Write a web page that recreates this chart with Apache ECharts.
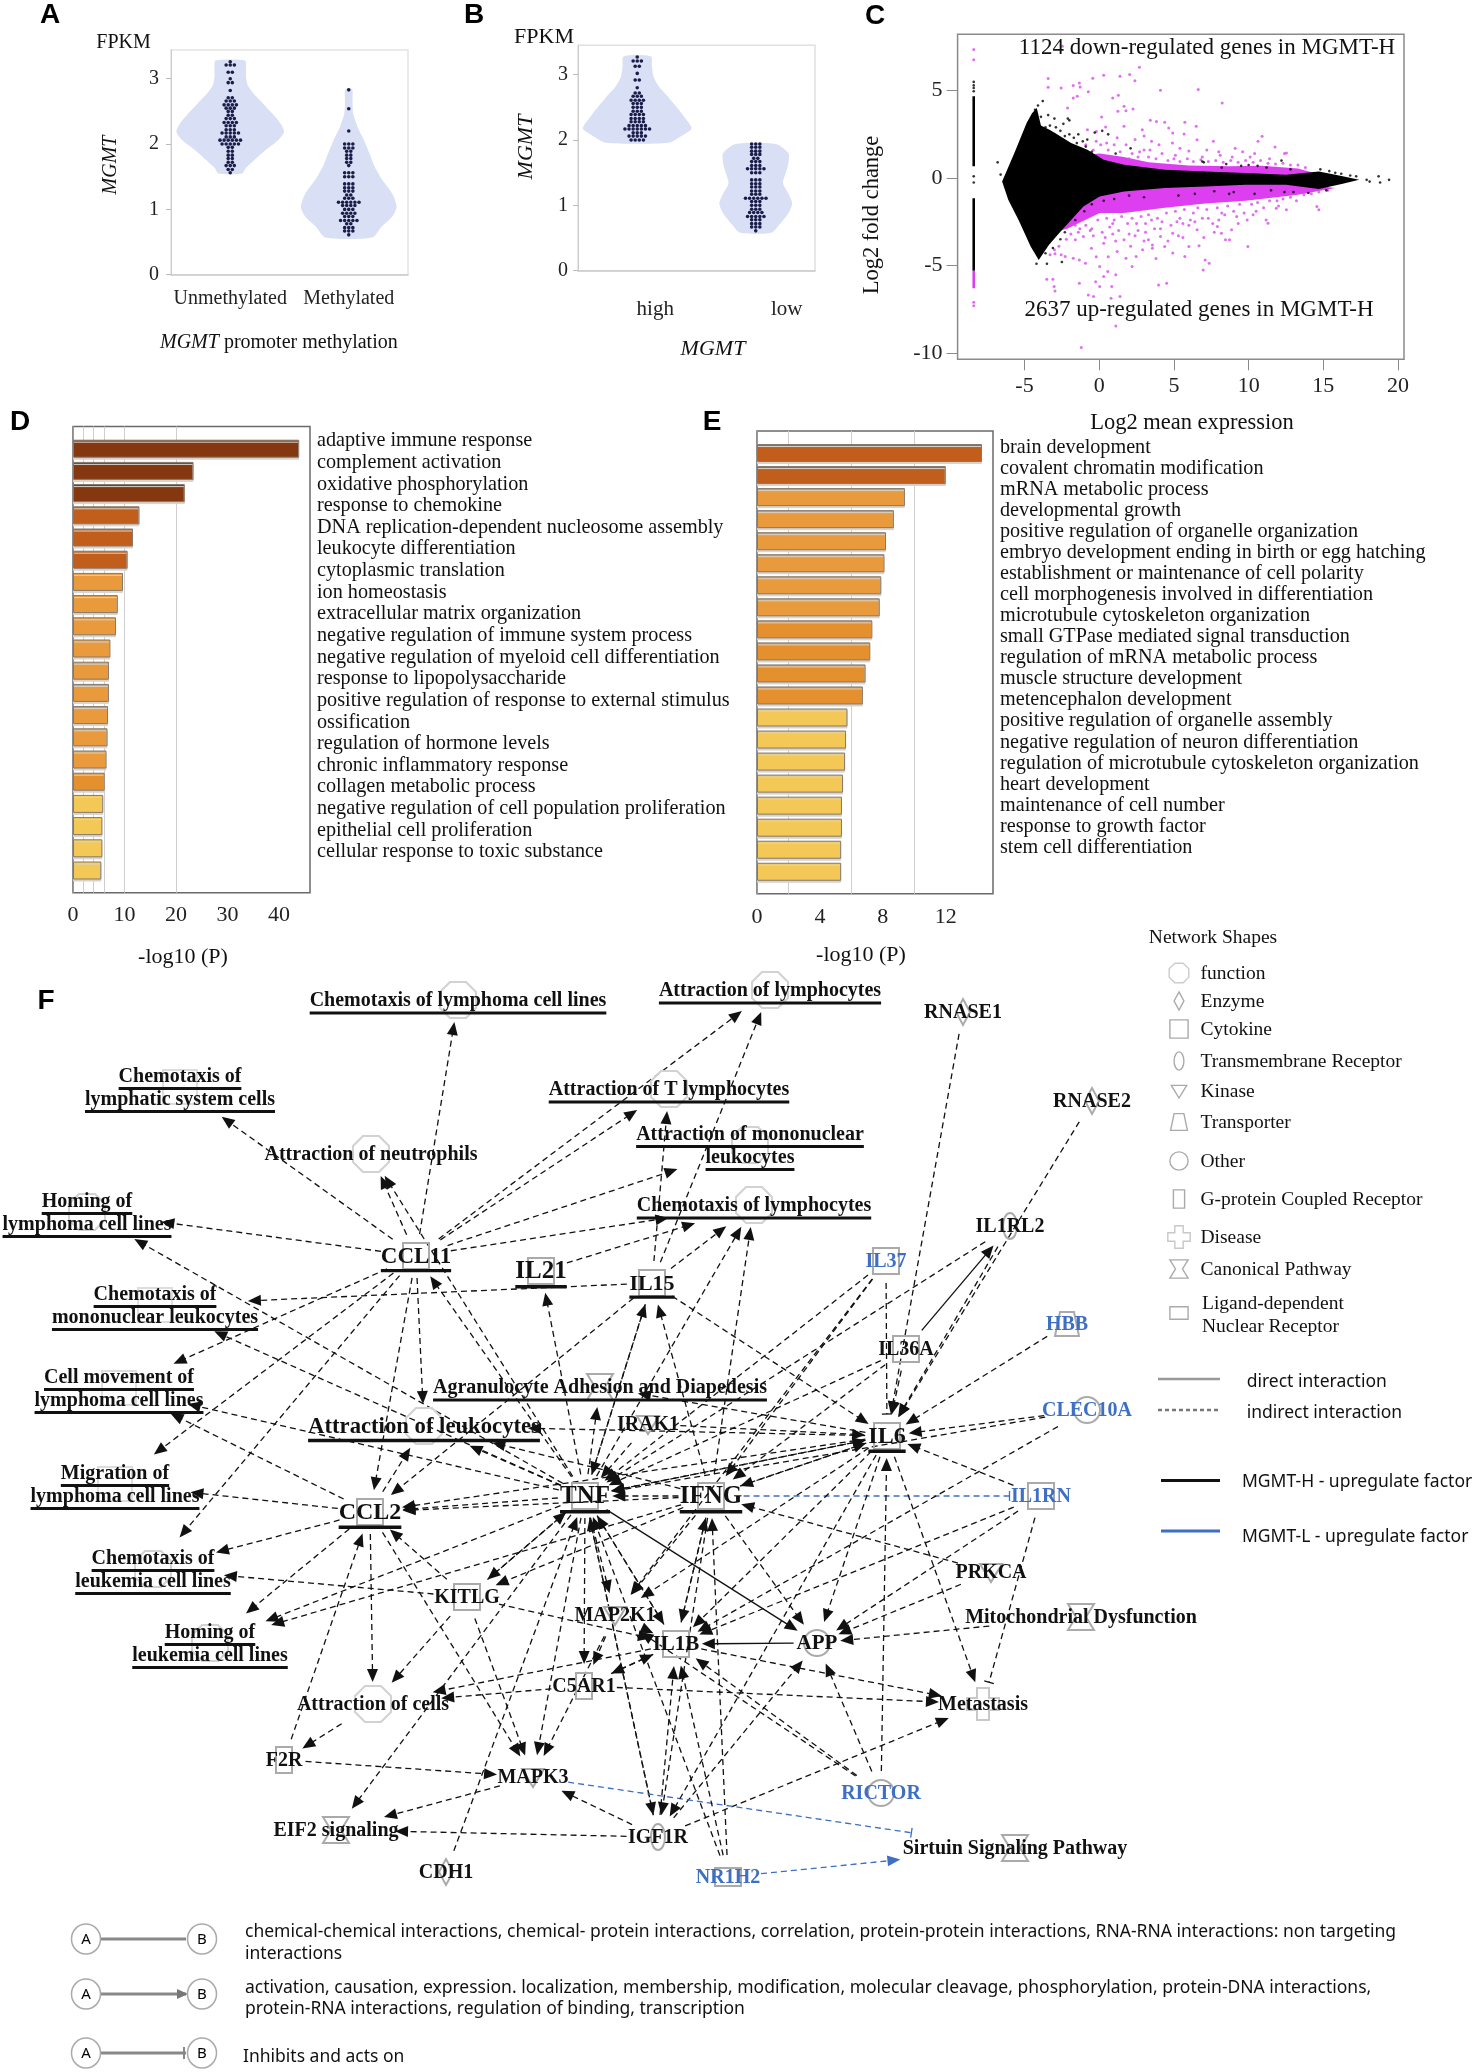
<!DOCTYPE html>
<html><head><meta charset="utf-8">
<style>html,body{margin:0;padding:0;background:#fff}#c{width:1476px;height:2072px}</style>
<script src="https://cdn.jsdelivr.net/npm/echarts@6/dist/echarts.min.js"></script>
</head><body><div id="c"></div>
<script>
/* ---------- Panels A, B: violins [value, half-width in band units] and dot rows [value, dots] ---------- */
const catsA = ['Unmethylated','Methylated'];
const catsB = ['high','low'];
const violinA1 = [[3.28,.124],[3.18,.133],[3.03,.133],[2.90,.147],[2.78,.193],[2.62,.275],[2.47,.353],[2.32,.422],[2.19,.454],[2.06,.404],[1.91,.298],[1.76,.206],[1.63,.13],[1.55,.10]];
const violinA2 = [[2.84,.028],[2.67,.032],[2.47,.037],[2.27,.073],[2.06,.128],[1.86,.174],[1.65,.22],[1.45,.284],[1.24,.367],[1.04,.404],[.89,.367],[.73,.275],[.57,.197]];
const violinB1 = [[3.28,.115],[3.12,.124],[2.97,.138],[2.82,.183],[2.66,.261],[2.51,.33],[2.36,.394],[2.18,.459],[2.08,.39],[1.96,.266]];
const violinB2 = [[1.94,.17],[1.80,.275],[1.64,.275],[1.49,.252],[1.34,.23],[1.18,.275],[1.03,.307],[.88,.275],[.72,.206],[.58,.128]];
const dotsA1 = [[3.26,1],[3.21,3],[3.10,2],[3.00,1],[2.94,2],[2.82,1],[2.71,2],[2.66,3],[2.60,4],[2.55,3],[2.50,2],[2.44,2],[2.39,3],[2.33,4],[2.28,3],[2.22,3],[2.17,5],[2.11,3],[2.06,6],[2.00,5],[1.95,2],[1.89,2],[1.83,2],[1.78,2],[1.72,2],[1.67,3],[1.61,2],[1.56,1]];
const dotsA2 = [[2.83,1],[2.54,1],[2.20,1],[2.00,3],[1.94,3],[1.89,2],[1.83,2],[1.78,2],[1.72,2],[1.67,1],[1.56,3],[1.50,3],[1.39,3],[1.33,3],[1.28,3],[1.22,2],[1.17,3],[1.11,6],[1.06,4],[1.00,3],[.94,4],[.89,3],[.83,5],[.78,2],[.72,3],[.67,3],[.61,1]];
const dotsB1 = [[3.27,1],[3.21,3],[3.13,2],[3.02,1],[2.92,2],[2.80,1],[2.72,2],[2.67,3],[2.61,4],[2.56,3],[2.50,3],[2.44,3],[2.39,4],[2.33,4],[2.28,4],[2.22,5],[2.17,7],[2.11,3],[2.06,5],[2.00,4]];
const dotsB2 = [[1.94,3],[1.89,3],[1.83,3],[1.78,3],[1.72,2],[1.67,3],[1.61,3],[1.56,5],[1.50,3],[1.39,3],[1.33,3],[1.28,3],[1.22,3],[1.17,3],[1.11,6],[1.06,3],[1.00,3],[.94,3],[.89,4],[.83,5],[.78,3],[.72,3],[.67,3],[.61,1]];
const ticksAB = [0,1,2,3];

/* ---------- Panel C: read-off outlines of the dense clouds, and individually read points ---------- */
const ticksCx = [-5,0,5,10,15,20];
const ticksCy = [-10,-5,0,5];
const cBlackCloud = [[-6.5,-.2],[-5.68,1.43],[-4.86,3.15],[-4.5,3.7],[-4.18,4.0],[-3.9,3.0],[-3.3,2.75],[-2.96,2.58],[-1.88,2.0],[-.79,1.62],[.3,1.05],[1.66,.76],[4.4,.48],[7.1,.38],[9.8,.29],[12.5,.19],[14.7,.38],[16.3,.1],[17.4,-.1],[16.3,-.32],[14.7,-.63],[12.5,-.38],[9.8,-.38],[7.1,-.48],[4.4,-.57],[1.66,-.76],[.03,-1.05],[-1.06,-1.62],[-1.88,-2.39],[-2.69,-3.15],[-3.37,-3.82],[-4.05,-4.68],[-4.59,-3.91],[-5.4,-2.39],[-6.09,-1.24]];
const cMagentaUpper = [[-1.6,.9],[-1.33,1.3],[.03,1.4],[1.66,1.2],[3.29,.9],[6,.72],[8.7,.68],[10.9,.7],[13.3,.55],[14.4,.29],[12,.1],[4,.3],[0,.6]];
const cMagentaLower = [[15.8,-.57],[13.3,-.95],[9.8,-1.3],[7.1,-1.45],[4.4,-1.7],[1.66,-2.0],[.03,-2.0],[-2.15,-2.9],[-2.6,-3.0],[-1,-1.2],[4,-.3],[12,-.2]];
const cStripBlack = [[-8.4,4.68],[-8.4,.67],['-','-'],[-8.4,-1.15],[-8.4,-5.3]];
const cStripMagenta = [[-8.4,-5.3],[-8.4,-6.3]];
const cBlackPoints = [[-8.4,5.5],[-8.4,5.3],[-8.4,5.15],[-8.4,4.96],[-8.4,.1],[-8.4,-.25],[-6.8,.9],[-6.6,.2],[-3.78,4.4],[-3.42,3.6],[-3.0,3.4],[-2.1,3.4],[-2.0,3.3],[-2.4,3.1],[-1.4,2.5],[-.8,2.2],[-.3,2.6],[.2,2.7],[.6,2.5],[1.1,1.4],[2.1,1.7],[6.9,.95],[8.2,.6],[9.5,.7],[10.6,.7],[12.2,1.0],[17.2,.1],[17.9,-.1],[18.1,-.2],[18.7,.1],[18.8,-.25],[19.4,-.1],[-3.5,-4.9],[-2.5,-4.8],[.3,-1.3],[1,-1.2],[8.7,-.9],[12.4,-.8],
 [-3.6,2.9],[-3.3,3.0],[-2.9,2.9],[-2.6,2.7],[-2.3,2.4],[-2,2.5],[-1.7,2.3],[-1.5,2.0],[-1.1,2.1],[-.9,1.8],[-.5,1.5],[-3.9,3.5],[-4.1,4.15],[-4.3,3.9],[-2.3,-3.1],[-2.6,-3.5],[-3.1,-4.0],[-3.6,-4.3],[-4.2,-4.9],[-1.6,-2.4],[-1,-1.9],[-.5,-1.5],[2,-1.0],[3,-1.1],[5.3,-1.0],[6.4,-.9],[7.7,-.75],[9,-.8],[10.4,-.9],[11.5,-.7],[13,-.8],[14,-.85],[15.2,-.7],[15.8,.3],[16.2,.25],[16.8,.15],[15.4,.4],[14.8,.5],[7,.9],[8.5,.8],[10,.75],[11.2,.6],[12.8,.5]];
const cMagentaPoints = [[-8.4,7.35],[-8.4,6.77],[-8.4,-7.1],[-8.4,-7.3],[-3.42,5.69],[-3.42,5.19],[-2.47,7.54],[-2.55,5.15],[-1.74,5.29],[-1.33,5.44],[-1.28,5.21],[-.73,4.94],[-.43,5.71],[.3,5.88],[1.39,5.82],[2.04,5.92],[2.39,5.57],[2.69,6.34],[4.1,5.02],[6.63,5.06],[8.23,4.29],[-1.74,4.58],[-1.47,4.68],[.9,4.58],[1.28,4.73],[-2.12,4.0],[1.66,4.1],[2.26,3.95],[1.79,3.85],[.16,3.49],[1.25,3.82],[3.42,3.3],[3.83,3.24],[4.38,3.19],[5.73,3.19],[6.49,2.96],[2.88,2.77],[1.66,2.96],[.43,2.92],[-.19,2.67],[-.79,2.77],[4.65,2.86],[4.92,2.58],[5.68,2.52],[6.55,2.19],[7.64,2.1],[10.9,2.39],[10.63,2.1],[11.77,1.77],[12.53,1.43],[12.4,1.4],[3,2.4],[3.5,2.1],[2.4,2.2],[1.2,2.3],[.5,2.0],[4,1.9],[4.9,2.0],[5.4,1.7],[6,1.55],[7.2,1.6],[8,1.5],[9.6,1.5],[10.1,1.2],[8.9,1.2],[2.7,1.5],[3.4,1.6],[5.1,1.3],[6.9,1.2],[11.4,1.1],
 [-.9,1.9],[-.4,1.6],[.1,1.9],[.6,1.6],[1,1.9],[1.4,1.5],[1.8,1.9],[2.2,1.4],[2.6,1.2],[3,1.6],[3.3,1.2],[3.8,1.1],[4.2,1.4],[4.6,1.0],[5,1.1],[5.4,.95],[5.9,1.1],[6.3,.95],[6.8,1.05],[7.3,.95],[7.8,1.0],[8.3,.9],[8.8,1.0],[9.3,.9],[9.8,1.0],[10.3,.9],[10.8,1.0],[11.3,.85],[11.8,.8],[12.3,.85],[12.8,.75],[13.3,.75],[13.8,.6],[8.1,1.3],[9.1,1.7],[10.4,1.4],[2,1.1],[-.2,2.1],
 [-3.51,-5.78],[-3.1,-5.78],[-3.02,-6.2],[-2.96,-6.45],[-3.29,-4.39],[-2.96,-4.33],[-2.55,-4.39],[-2.28,-4.48],[-1.74,-4.58],[-1.33,-4.68],[-.92,-4.87],[-.73,-6.68],[-.38,-6.77],[.03,-5.06],[.57,-5.34],[.3,-5.63],[-.24,-5.92],[-1.33,-6.01],[.84,-6.2],[.03,-6.2],[1.39,-6.77],[.79,-6.87],[1.11,-8.45],[-1.2,-9.68],[1.79,-4.58],[2.47,-4.48],[2.2,-5.06],[1.11,-5.53],[3.97,-6.11],[4.51,-6.01],[3.56,-4.01],[3.56,-3.82],[4.92,-4.29],[4.38,-3.91],[5.73,-4.48],[6.0,-3.91],[6.68,-3.87],[7.09,-4.68],[7.36,-4.87],[6.96,-5.25],[8.45,-3.53],[8.72,-3.53],[9.95,-3.91],[11.17,-2.39],[11.3,-2.58],[12.53,-1.81],[11.85,-1.72],[14.7,-1.81],[14.57,-1.62],[8.18,-3.15],[8.86,-2.96],[7.91,-2.77],[6.55,-2.96],[4.92,-3.15],[4.1,-3.34],[3.29,-3.53],[1.66,-3.53],[.3,-3.72],[-.52,-4.01],[-1.6,-3.53],[-1.06,-3.34],[2.6,-3.0],[3.1,-3.1],[5.6,-2.6],[5.3,-3.3],[6.1,-2.4],[7.3,-2.3],[8.4,-2.1],[9.2,-2.2],[9.9,-2.4],[10.5,-1.9],[.9,-3.2],[-.6,-3.0],[-1.3,-2.9],[2.1,-3.9],[1.2,-4.2],[.6,-4.5],[-.2,-4.5],[3.8,-4.6],[2.9,-4.1],
 [-1.9,-3.2],[-1.4,-3.1],[-.9,-2.7],[-.5,-2.9],[-.1,-2.4],[.2,-3.1],[.5,-2.3],[.7,-2.8],[1,-2.4],[1.3,-3.0],[1.5,-2.2],[1.9,-2.6],[2.2,-2.3],[2.4,-3.3],[2.8,-2.2],[3.1,-2.6],[3.3,-2.1],[3.7,-2.9],[3.9,-2.3],[4.2,-2.5],[4.5,-2.0],[4.8,-2.7],[5.1,-1.9],[5.4,-2.3],[5.7,-1.8],[6,-2.7],[6.3,-2.0],[6.6,-1.7],[6.9,-2.3],[7.2,-1.8],[7.6,-2.6],[7.9,-1.7],[8.2,-2.0],[8.6,-1.6],[9,-1.9],[9.4,-1.5],[9.7,-2.0],[10.2,-1.5],[10.6,-1.4],[11,-1.7],[11.4,-1.3],[11.9,-1.3],[12.3,-1.2],[12.8,-1.1],[13.2,-1.3],[13.7,-.95],[14.2,-.9],[14.7,-.8],[15.3,-.7],[.4,-3.4],[1.1,-3.6],[2,-3.2],[3,-3.6],[4.6,-3.6],[5.6,-3.4],[7,-3.4],[7.7,-3.1],[-1.6,-2.7],[-2.2,-3.5],[-2.7,-3.9],[-3,-4.1],[-.4,-3.3],[.9,-2.6],[2.5,-2.6],[3.5,-2.4],[4.1,-2.9],[5.2,-2.5],[6.4,-2.5],[8,-2.4],[9.3,-2.6],[10.3,-2.1],[12,-1.6]];

/* ---------- Panels D, E ---------- */
const ticksD = [0,10,20,30,40];
const gridD = [2,4,6,10,20];
const termsD = ['adaptive immune response','complement activation','oxidative phosphorylation','response to chemokine','DNA replication-dependent nucleosome assembly','leukocyte differentiation','cytoplasmic translation','ion homeostasis','extracellular matrix organization','negative regulation of immune system process','negative regulation of myeloid cell differentiation','response to lipopolysaccharide','positive regulation of response to external stimulus','ossification','regulation of hormone levels','chronic inflammatory response','collagen metabolic process','negative regulation of cell population proliferation','epithelial cell proliferation','cellular response to toxic substance'];
const valuesD = [43.9,23.4,21.7,12.9,11.65,10.6,9.7,8.7,8.35,7.25,6.97,6.97,6.8,6.7,6.5,6.15,5.87,5.7,5.7,5.5];
const colorsD = ['#85370f','#85370f','#85370f','#c15e1b','#c15e1b','#c15e1b','#e89a3c','#e89a3c','#e89a3c','#e89a3c','#e89a3c','#e89a3c','#e89a3c','#e89a3c','#e89a3c','#e5902f','#f3c857','#f3c857','#f3c857','#f3c857'];
const ticksE = [0,4,8,12];
const minorE = [2,6,10,14];
const gridE = [2,6,10];
const termsE = ['brain development','covalent chromatin modification','mRNA metabolic process','developmental growth','positive regulation of organelle organization','embryo development ending in birth or egg hatching','establishment or maintenance of cell polarity','cell morphogenesis involved in differentiation','microtubule cytoskeleton organization','small GTPase mediated signal transduction','regulation of mRNA metabolic process','muscle structure development','metencephalon development','positive regulation of organelle assembly','negative regulation of neuron differentiation','regulation of microtubule cytoskeleton organization','heart development','maintenance of cell number','response to growth factor','stem cell differentiation'];
const valuesE = [14.3,12.0,9.4,8.7,8.2,8.1,7.9,7.8,7.33,7.2,6.9,6.73,5.75,5.66,5.6,5.47,5.4,5.4,5.35,5.35];
const colorsE = ['#c15e1b','#c15e1b','#e89a3c','#e89a3c','#e89a3c','#e89a3c','#e89a3c','#e89a3c','#e5902f','#e5902f','#e5902f','#e5902f','#f3c857','#f3c857','#f3c857','#f3c857','#f3c857','#f3c857','#f3c857','#f3c857'];

/* ---------- Panel F: network ---------- */
const BLUE = '#3d6fc4';
// id, label, x, y, shape, font size, underlined, colour, gap override
const netNodes = [
['chemLymphoma','Chemotaxis of lymphoma cell lines',458,1000,'oct',20,1],
['attrLympho','Attraction of lymphocytes',770,990,'oct',20,1],
['chemLymphatic','Chemotaxis of\nlymphatic system cells',180,1087,'rectF',20,1],
['attrT','Attraction of T lymphocytes',669,1089,'oct',20,1],
['attrMono','Attraction of mononuclear\nleukocytes',750,1145,'oct',20,1],
['attrNeut','Attraction of neutrophils',371,1154,'oct',20,0],
['chemLympho','Chemotaxis of lymphocytes',754,1205,'oct',20,1],
['homLymphoma','Homing of\nlymphoma cell lines',87,1212,'oct',20,1],
['chemMono','Chemotaxis of\nmononuclear leukocytes',155,1305,'rectF',20,1],
['cellMov','Cell movement of\nlymphoma cell lines',119,1388,'rectF',20,1],
['migr','Migration of\nlymphoma cell lines',115,1484,'rectF',20,1],
['chemLeuk','Chemotaxis of\nleukemia cell lines',153,1569,'oct',20,1],
['homLeuk','Homing of\nleukemia cell lines',210,1643,'oct',20,1],
['attrLeuko','Attraction of leukocytes',424,1426,'oct',22.7,1],
['agran','Agranulocyte Adhesion and Diapedesis',600,1387,'hour',20,1,null,[40,20]],
['attrCells','Attraction of cells',373,1704,'oct',20,0],
['CCL11','CCL11',416,1256,'rect',23,1],
['IL21','IL21',541,1271,'rect',25,1],
['IL15','IL15',652,1283,'rect',22,1],
['IL37','IL37',886,1261,'rect',20,0,BLUE],
['IL1RL2','IL1RL2',1010,1226,'ell',20,0],
['RNASE1','RNASE1',963,1012,'dia',20,0],
['RNASE2','RNASE2',1092,1101,'dia',20,0],
['HBB','HBB',1067,1324,'trap',20,0,BLUE],
['IL36A','IL36A',906,1349,'rect',20,0],
['CLEC10A','CLEC10A',1087,1410,'cir',20,0,BLUE],
['IL6','IL6',887,1436,'rect',24,1],
['IL1RN','IL1RN',1041,1496,'rect',20,0,BLUE],
['IRAK1','IRAK1',648,1424,'kin',20,0],
['CCL2','CCL2',370,1512,'rect',24,1],
['TNF','TNF',585,1496,'rect',25,1],
['IFNG','IFNG',711,1496,'rect',25,1],
['KITLG','KITLG',467,1597,'rect',20,0],
['PRKCA','PRKCA',991,1572,'kin',20,0],
['mito','Mitochondrial Dysfunction',1081,1617,'hour',20,0,null,[120,14]],
['MAP2K1','MAP2K1',615,1615,'kin',20,0],
['IL1B','IL1B',676,1644,'rect',21,0],
['APP','APP',817,1643,'cir',21,0],
['C5AR1','C5AR1',584,1686,'gpcr',20,0],
['meta','Metastasis',983,1704,'plus',20,0],
['F2R','F2R',284,1760,'gpcr',20,0],
['MAPK3','MAPK3',533,1777,'kin',20,0],
['RICTOR','RICTOR',881,1793,'cir',20,0,BLUE],
['eif2','EIF2 signaling',336,1830,'hour',20,0],
['IGF1R','IGF1R',658,1837,'ell',20,0],
['sirt','Sirtuin Signaling Pathway',1015,1848,'hour',20,0,null,[128,26]],
['CDH1','CDH1',446,1872,'dia',20,0],
['NR1H2','NR1H2',728,1877,'lig',20,0,BLUE]
];
// from, to, kind: a dashed arrow, b dashed bar, s solid arrow, A blue dashed arrow, B blue dashed bar
const netEdges = [
['CCL11','chemLymphoma','a'],['CCL11','attrNeut','a'],['CCL11','chemLymphatic','a'],['CCL11','homLymphoma','a'],['CCL11','attrLympho','a'],['CCL11','attrT','a'],['CCL11','attrMono','a'],['CCL11','chemLympho','a'],['CCL11','cellMov','a'],['CCL11','migr','a'],['CCL11','chemLeuk','a'],['CCL11','attrLeuko','a'],['CCL11','CCL2','a'],
['IL21','chemLympho','a'],
['IL15','chemMono','a'],['IL15','attrT','a'],['IL15','attrLympho','a'],['IL15','chemLympho','a'],['IL15','CCL2','a'],['IL15','TNF','a'],['IL15','IL6','a'],
['TNF','CCL11','a'],['TNF','IL21','a'],['TNF','IL15','a'],['TNF','attrNeut','a'],['TNF','homLymphoma','a'],['TNF','chemMono','a'],['TNF','cellMov','a'],['TNF','CCL2','a'],['TNF','attrLeuko','a'],['TNF','agran','a'],['TNF','IL6','a'],['TNF','MAP2K1','a'],['TNF','IL1B','a'],['TNF','APP','s'],['TNF','C5AR1','a'],['TNF','MAPK3','a'],['TNF','chemLympho','a'],['TNF','eif2','a'],['TNF','KITLG','a'],['TNF','homLeuk','a'],['TNF','IGF1R','a'],
['IFNG','IL15','a'],['IFNG','chemLympho','a'],['IFNG','TNF','a'],['IFNG','IL6','a'],['IFNG','CCL2','a'],['IFNG','attrLeuko','a'],['IFNG','MAP2K1','a'],['IFNG','IL1B','a'],['IFNG','APP','a'],['IFNG','KITLG','a'],['IFNG','homLeuk','a'],['IFNG','IGF1R','a'],['IFNG','IL1RN','B'],
['CCL2','chemLeuk','a'],['CCL2','migr','a'],['CCL2','cellMov','a'],['CCL2','homLeuk','a'],['CCL2','attrLeuko','a'],['CCL2','attrCells','a'],['CCL2','MAPK3','a'],
['F2R','CCL2','a'],['F2R','MAPK3','a'],['attrCells','F2R','a'],
['KITLG','CCL2','a'],['KITLG','chemLeuk','a'],['KITLG','attrCells','a'],['KITLG','MAPK3','a'],['KITLG','IL1B','a'],['KITLG','TNF','a'],
['C5AR1','attrCells','a'],['C5AR1','IL1B','a'],['C5AR1','meta','a'],['IL1B','C5AR1','a'],['IL1B','attrCells','a'],['IL1B','meta','a'],['IL1B','TNF','a'],['IL1B','IFNG','a'],
['MAP2K1','MAPK3','a'],['MAP2K1','C5AR1','a'],['MAP2K1','IL1B','a'],
['APP','IL1B','s'],
['IGF1R','MAPK3','a'],['IGF1R','eif2','a'],['IGF1R','IL1B','a'],['IGF1R','APP','a'],['IGF1R','meta','a'],['IGF1R','TNF','a'],
['MAPK3','eif2','a'],['MAPK3','sirt','B'],['NR1H2','sirt','A'],['NR1H2','TNF','a'],['NR1H2','IFNG','a'],['NR1H2','IL1B','a'],
['RICTOR','IL1B','a'],['RICTOR','APP','a'],['RICTOR','IL6','a'],['RICTOR','MAP2K1','a'],
['PRKCA','APP','a'],['PRKCA','IFNG','a'],
['IL1RN','APP','a'],['IL1RN','IL1B','a'],['IL1RN','meta','b'],['IL1RN','IL6','a'],
['IL6','meta','a'],['IL6','IL1B','a'],['IL6','APP','a'],['IL6','MAP2K1','a'],['IL6','IGF1R','a'],['IL6','TNF','a'],['IL6','IFNG','a'],['IL6','CCL2','a'],['IL6','attrLeuko','a'],['IL6','agran','a'],
['mito','APP','a'],['CDH1','TNF','a'],
['RNASE1','IL6','a'],['RNASE2','IL6','a'],['IL36A','IL1RL2','s'],['IL1RL2','IL6','a'],['IL1RL2','TNF','a'],
['IL37','IL6','b'],['IL37','TNF','a'],['IL37','IFNG','a'],['IL37','MAP2K1','a'],
['IL36A','IL6','a'],['IL36A','TNF','a'],['IL36A','IFNG','a'],['HBB','IL6','a'],
['CLEC10A','IL6','a'],['CLEC10A','TNF','a'],['CLEC10A','IL1B','a'],['IRAK1','TNF','a'],['IRAK1','IL6','a']
];
const shapeLegend = [['cirL','function',973],['dia','Enzyme',1001],['rect','Cytokine',1029],['ell','Transmembrane Receptor',1061],['kin','Kinase',1091],['trap','Transporter',1122],['cir','Other',1161],['gpcr','G-protein Coupled Receptor',1199],['plus','Disease',1237],['hour','Canonical Pathway',1269]];
const lineLegend = ['direct interaction','indirect interaction','MGMT-H - upregulate factor','MGMT-L - upregulate factor'];
const abLegend = [['chemical-chemical interactions, chemical- protein interactions, correlation, protein-protein interactions, RNA-RNA interactions: non targeting','interactions'],['activation, causation, expression. localization, membership, modification, molecular cleavage, phosphorylation, protein-DNA interactions,','protein-RNA interactions, regulation of binding, transcription'],['Inhibits and acts on']];

/* ---------- helpers ---------- */
const SERIF = '"Liberation Serif",serif', SANS='"Noto Sans",sans-serif';
const measure = document.createElement('canvas').getContext('2d');
function textW(t,font){measure.font=font;return measure.measureText(t).width;}
function T(text,x,y,size,opt={}){return {type:'text',x,y:y+(opt.rot?0:1.2),rotation:opt.rot||0,z:50,silent:true,style:{text,fill:opt.color||'#111',font:`${opt.italic?'italic ':''}${opt.bold?'bold ':''}${size}px ${opt.family||SERIF}`,align:opt.align||'center',verticalAlign:'middle'}};}
function shapeEl(kind,cx,cy,stroke){
  const st={fill:'none',stroke:stroke||'#aaa',lineWidth:2};
  const P=pts=>({type:'polygon',shape:{points:pts.map(p=>[cx+p[0],cy+p[1]])},style:st});
  switch(kind){
    case 'oct':{const a=18,b=8;return {type:'polygon',shape:{points:[[-b,-a],[b,-a],[a,-b],[a,b],[b,a],[-b,a],[-a,b],[-a,-b]].map(p=>[cx+p[0],cy+p[1]])},style:{fill:'none',stroke:'#d2d2d2',lineWidth:2}};}
    case 'cirL':return {type:'polygon',shape:{points:[[-6,-14],[6,-14],[14,-6],[14,6],[6,14],[-6,14],[-14,6],[-14,-6]].map(p=>[cx+p[0],cy+p[1]])},style:{fill:'none',stroke:'#ccc',lineWidth:2}};
    case 'rectF':return {type:'rect',shape:{x:cx-17,y:cy-17,width:34,height:34},style:{fill:'none',stroke:'#ddd',lineWidth:2}};
    case 'rect':return {type:'rect',shape:{x:cx-13,y:cy-13,width:26,height:26},style:st};
    case 'gpcr':return {type:'rect',shape:{x:cx-8,y:cy-13,width:16,height:26},style:st};
    case 'lig':return {type:'rect',shape:{x:cx-13,y:cy-9,width:26,height:18},style:st};
    case 'dia':return P([[0,-13],[7,0],[0,13],[-7,0]]);
    case 'ell':return {type:'ellipse',shape:{cx,cy,rx:7,ry:13},style:st};
    case 'cir':return {type:'circle',shape:{cx,cy,r:13},style:st};
    case 'kin':return P([[-11,-8],[11,-8],[0,10]]);
    case 'trap':return P([[-7,-12],[7,-12],[12,12],[-12,12]]);
    case 'hour':return P([[-13,-13],[13,-13],[5,0],[13,13],[-13,13],[-5,0]]);
    case 'plus':{const a=6,b=16;return {type:'polygon',shape:{points:[[-a,-b],[a,-b],[a,-a],[b,-a],[b,a],[a,a],[a,b],[-a,b],[-a,a],[-b,a],[-b,-a],[-a,-a]].map(p=>[cx+p[0],cy+p[1]])},style:{fill:'none',stroke:'#c8c8c8',lineWidth:2}};}
  }
}
function legendShape(kind,cx,cy){return Object.assign(shapeEl(kind,cx,cy),{z:50,silent:true,scaleX:.7,scaleY:.7,originX:cx,originY:cy});}
function plainAxis(idx,min,max,inverse){return {gridIndex:idx,type:'value',min,max,inverse:!!inverse,show:false};}

/* ---------- network geometry ---------- */
const nodeById={};
netNodes.forEach((n,i)=>{
  const [id,label,x,y,shape,size,ul,color,gap]=n;
  const lines=label.split('\n');
  const font=`bold ${size}px ${SERIF}`;
  const w=Math.max(...lines.map(l=>textW(l,font)));
  nodeById[id]={id,label,lines,x,y,shape,size,ul,color:color||'#111',font,
    rx:gap?gap[0]:w/2*.85+6, ry:gap?gap[1]:lines.length*12+10};
});
function edgeRender(params,api){
  const e=netEdges[params.dataIndex], a=nodeById[e[0]], b=nodeById[e[1]], k=e[2];
  const p=api.coord([a.x,a.y]), q=api.coord([b.x,b.y]);
  const dx=q[0]-p[0],dy=q[1]-p[1],L=Math.hypot(dx,dy),ux=dx/L,uy=dy/L;
  const t1=1/Math.hypot(ux/a.rx,uy/a.ry), t2=1/Math.hypot(ux/b.rx,uy/b.ry);
  const s=[p[0]+ux*t1,p[1]+uy*t1], f=[q[0]-ux*t2,q[1]-uy*t2];
  const col=(k==='A'||k==='B')?BLUE:'#111', dash=k==='s'?null:[6,4];
  const arrow=(k==='a'||k==='s'||k==='A');
  const lineEnd=arrow?[f[0]-ux*10,f[1]-uy*10]:f;
  const ch=[{type:'line',shape:{x1:s[0],y1:s[1],x2:lineEnd[0],y2:lineEnd[1]},style:{stroke:col,lineWidth:1.3,lineDash:dash}}];
  if(arrow){ch.push({type:'polygon',shape:{points:[f,[f[0]-ux*13-uy*5.5,f[1]-uy*13+ux*5.5],[f[0]-ux*13+uy*5.5,f[1]-uy*13-ux*5.5]]},style:{fill:col}});}
  else{ch.push({type:'line',shape:{x1:f[0]-uy*5,y1:f[1]+ux*5,x2:f[0]+uy*5,y2:f[1]-ux*5},style:{stroke:col,lineWidth:1.3}});}
  return {type:'group',children:ch};
}
function nodeRender(params,api){
  const n=nodeById[netNodes[params.dataIndex][0]];
  const c=api.coord([n.x,n.y]);
  return shapeEl(n.shape,c[0],c[1]);
}
function labelRender(params,api){
  const n=nodeById[netNodes[params.dataIndex][0]];
  const c=api.coord([n.x,n.y]), lh=n.lines.length>1?23:0, ch=[];
  n.lines.forEach((l,i)=>{
    const y=c[1]+1+(i-(n.lines.length-1)/2)*lh;
    ch.push({type:'text',x:c[0],y,style:{text:l,font:n.font,fill:n.color,align:'center',verticalAlign:'middle'}});
    if(n.ul){const w=textW(l,n.font);ch.push({type:'rect',shape:{x:c[0]-w/2,y:y+n.size*.52,width:w,height:n.size>20?3.4:3},style:{fill:'#111'}});}
  });
  return {type:'group',children:ch};
}

/* ---------- renderers for data panels ---------- */
function violin(cat,xI,yI,data){return {type:'custom',xAxisIndex:xI,yAxisIndex:yI,z:2,silent:true,clip:false,
  data:data.map(d=>[cat,d[0],d[1]]),
  renderItem(params,api){
    if(params.dataIndex!==0)return;
    const band=api.size([1,0])[0];
    const R=data.map(d=>{const c=api.coord([cat,d[0]]);return [c[0]+d[1]*band,c[1]];});
    const Lf=data.map(d=>{const c=api.coord([cat,d[0]]);return [c[0]-d[1]*band,c[1]];}).reverse();
    return {type:'polygon',shape:{points:R.concat(Lf),smooth:.25},style:{fill:'#d9dff4'}};
  }};}
function swarm(cat,xI,yI,data){return {type:'custom',xAxisIndex:xI,yAxisIndex:yI,z:3,silent:true,
  data:data.map(d=>[cat,d[0],d[1]]),
  renderItem(params,api){
    const c=api.coord([cat,api.value(1)]),n=api.value(2),ch=[];
    for(let i=0;i<n;i++)ch.push({type:'circle',shape:{cx:c[0]+(i-(n-1)/2)*4.1,cy:c[1],r:1.8},style:{fill:'#1a1d4a'}});
    return {type:'group',children:ch};
  }};}
function cloud(points,color,z){return {type:'custom',xAxisIndex:2,yAxisIndex:2,z,silent:true,clip:true,data:points,
  renderItem(params,api){
    if(params.dataIndex!==0)return;
    return {type:'polygon',shape:{points:points.map(p=>api.coord(p))},style:{fill:color}};
  }};}
function scatter(points,color,z,size){return {type:'scatter',xAxisIndex:2,yAxisIndex:2,z,silent:true,symbolSize:size,itemStyle:{color},data:points};}
function strip(points,color,z){return {type:'line',xAxisIndex:2,yAxisIndex:2,z,silent:true,showSymbol:false,lineStyle:{color,width:2.6},data:points,connectNulls:false};}
function bars(xI,yI,values,colors,width,grid){return [
  {type:'bar',xAxisIndex:xI,yAxisIndex:yI,z:3,silent:true,barWidth:width,
   data:[null].concat(values.map((v,i)=>({value:v,itemStyle:{color:colors[i]}})),[null]),
   itemStyle:{borderColor:'#85786a',borderWidth:1,shadowColor:'#d8d3cc',shadowOffsetY:2,shadowBlur:0},
   markLine:{silent:true,symbol:'none',z:1,label:{show:false},lineStyle:{color:'#cfcfcf',width:1,type:'solid'},data:grid.map(g=>({xAxis:g}))}}];}
function yTermAxis(idx,terms){return {gridIndex:idx,type:'category',inverse:true,position:'right',data:terms,axisLine:{show:false},axisTick:{show:false},splitLine:{show:false},axisLabel:{margin:0,color:'#111',fontFamily:SERIF,fontSize:20.2,interval:0}};}
const pad=a=>[''].concat(a,['  ']);

/* ---------- axes and grids ---------- */
const grids=[
 {left:171,top:50,width:237,height:224.7,show:true,borderColor:'#e3e3e3',borderWidth:1.5},
 {left:578,top:45.3,width:237,height:225.4,show:true,borderColor:'#e0e0e0',borderWidth:1.5},
 {left:957.6,top:34.3,width:446.4,height:325,show:true,borderColor:'#8a8a8a',borderWidth:1.5},
 {left:73,top:426.5,width:237,height:466.2,show:true,borderColor:'#6a6a6a',borderWidth:1.5},
 {left:312,top:430.2,width:5,height:432.6},
 {left:757,top:431,width:236,height:462.8,show:true,borderColor:'#6a6a6a',borderWidth:1.5},
 {left:995,top:437,width:5,height:421},
 {left:0,top:0,width:1476,height:2072}
];
const tickLab=(size,extra={})=>Object.assign({color:'#222',fontFamily:SERIF,fontSize:size},extra);
const xAxes=[
 {gridIndex:0,type:'category',data:catsA,axisTick:{show:false},axisLine:{lineStyle:{color:'#ccc',width:1.5}},axisLabel:tickLab(20,{margin:14,interval:0})},
 {gridIndex:1,type:'category',data:catsB,axisTick:{show:false},axisLine:{lineStyle:{color:'#ccc',width:1.5}},
  axisLabel:tickLab(21,{margin:28,interval:0,formatter:v=>v==='high'?'{h|high}':'{l|low}',rich:{h:{fontFamily:SERIF,fontSize:21,color:'#222',padding:[0,0,0,36]},l:{fontFamily:SERIF,fontSize:21,color:'#222',padding:[0,0,0,62]}}})},
 {gridIndex:2,type:'value',min:-9.48,max:20.4,axisLine:{onZero:false,lineStyle:{color:'#8a8a8a'}},axisTick:{length:11,customValues:ticksCx,lineStyle:{color:'#8a8a8a'}},
  axisLabel:tickLab(22,{margin:16,customValues:ticksCx,showMinLabel:true}),splitLine:{show:false}},
 {gridIndex:3,type:'value',min:0,max:46,axisLine:{lineStyle:{color:'#555',width:2}},axisTick:{length:5,customValues:ticksD,lineStyle:{color:'#555'}},axisLabel:tickLab(22,{margin:12,customValues:ticksD}),splitLine:{show:false}},
 plainAxis(4,0,1),
 {gridIndex:5,type:'value',min:0,max:15,axisLine:{lineStyle:{color:'#555',width:2}},axisTick:{length:5,customValues:ticksE.concat(minorE),lineStyle:{color:'#555'}},axisLabel:tickLab(22,{margin:12,customValues:ticksE}),splitLine:{show:false}},
 plainAxis(6,0,1),
 plainAxis(7,0,1476)
];
const yAxes=[
 {gridIndex:0,type:'value',min:0,max:3.44,axisLine:{show:true,lineStyle:{color:'#ccc'}},axisTick:{show:true,length:5,customValues:ticksAB,lineStyle:{color:'#bbb'}},axisLabel:tickLab(20,{margin:12,customValues:ticksAB}),splitLine:{show:false}},
 {gridIndex:1,type:'value',min:0,max:3.45,axisLine:{show:true,lineStyle:{color:'#ccc'}},axisTick:{show:true,length:5,customValues:ticksAB,lineStyle:{color:'#bbb'}},axisLabel:tickLab(20,{margin:10,customValues:ticksAB}),splitLine:{show:false}},
 {gridIndex:2,type:'value',min:-10.36,max:8.22,axisLine:{onZero:false,show:true,lineStyle:{color:'#8a8a8a'}},axisTick:{show:true,length:11,customValues:ticksCy,lineStyle:{color:'#8a8a8a'}},
  axisLabel:tickLab(22,{margin:15,customValues:ticksCy,padding:[0,0,8,0]}),splitLine:{show:false}},
 {gridIndex:3,type:'category',inverse:true,boundaryGap:false,data:pad(termsD.map((_,i)=>String(i+1))),axisLine:{lineStyle:{color:'#999'}},axisTick:{show:false},axisLabel:{show:false}},
 yTermAxis(4,termsD),
 {gridIndex:5,type:'category',inverse:true,boundaryGap:false,data:pad(termsE.map((_,i)=>String(i+1))),axisLine:{lineStyle:{color:'#999'}},axisTick:{show:false},axisLabel:{show:false}},
 yTermAxis(6,termsE),
 plainAxis(7,0,2072,true)
];

/* ---------- free text and page legends ---------- */
const g=[];
[['A',50,14],['B',474,14],['C',875,15],['D',20,421],['E',712,421],['F',46,1000]].forEach(a=>g.push(T(a[0],a[1],a[2],28,{bold:true,family:'"Liberation Sans",sans-serif',color:'#000'})));
g.push(T('FPKM',123.6,41.7,20),T('FPKM',544,35.7,22));
g.push(T('MGMT',111,165,20,{italic:true,rot:Math.PI/2}),T('MGMT',526,147,22,{italic:true,rot:Math.PI/2}));
g.push(T('MGMT',713,348,22,{italic:true}));
const mw=textW('MGMT',`italic 20px "Liberation Serif"`);
g.push(T('MGMT',160,342,20,{italic:true,align:'left'}),T(' promoter methylation',160+mw,342,20,{align:'left'}));
g.push(T('1124 down-regulated genes in MGMT-H',1207,46.7,23),T('2637 up-regulated genes in MGMT-H',1199,309,23));
g.push(T('Log2 fold change',872,215,22.5,{rot:Math.PI/2}),T('Log2 mean expression',1192,422,22.5));
g.push(T('-log10 (P)',183,956,22),T('-log10 (P)',861,954.5,22));
g.push(T('Network Shapes',1213,936.5,19.5));
shapeLegend.forEach(s=>{g.push(legendShape(s[0],1179,s[2]),T(s[1],1200.5,s[2],19.5,{align:'left'}));});
g.push(legendShape('lig',1179,1313),T('Ligand-dependent',1202,1302.6,19.5,{align:'left'}),T('Nuclear Receptor',1202,1326,19.5,{align:'left'}));
[[1158,1220,1379,'#999',null,1246.7,1381],[1158,1220,1410,'#777',[4,3],1246.7,1412],[1161,1220,1480.6,'#111',null,1242,1481],[1161,1220,1531,BLUE,null,1242,1536]].forEach((l,i)=>{
  g.push({type:'line',z:50,silent:true,shape:{x1:l[0],y1:l[2],x2:l[1],y2:l[2]},style:{stroke:l[3],lineWidth:i>1?3:2.4,lineDash:l[4]}},T(lineLegend[i],l[5],l[6],17.5,{align:'left',family:SANS}));
});
[[1939,'none'],[1994,'arrow'],[2053,'bar']].forEach((r,i)=>{
  const y=r[0];
  g.push({type:'line',z:50,silent:true,shape:{x1:100,y1:y,x2:186,y2:y},style:{stroke:'#888',lineWidth:3}});
  if(r[1]==='arrow')g.push({type:'polygon',z:50,silent:true,shape:{points:[[188,y],[177,y-5],[177,y+5]]},style:{fill:'#777'}});
  if(r[1]==='bar')g.push({type:'line',z:50,silent:true,shape:{x1:184,y1:y-6,x2:184,y2:y+6},style:{stroke:'#888',lineWidth:2}});
  [['A',86],['B',202]].forEach(c=>{
    g.push({type:'ellipse',z:50,silent:true,shape:{cx:c[1],cy:y,rx:14.5,ry:15},style:{fill:'#fff',stroke:'#aaa',lineWidth:1.5}},T(c[0],c[1],y,15,{family:SANS,color:'#000'}));
  });
});
[[1931,1953],[1987,2008],[2056]].forEach((ys,i)=>ys.forEach((y,j)=>g.push(T(abLegend[i][j],i==2?243:245,y,17.5,{align:'left',family:SANS}))));

/* ---------- chart ---------- */
const chart=echarts.init(document.getElementById('c'),null,{renderer:'canvas',width:1476,height:2072});
chart.setOption({
 animation:false,backgroundColor:'#fff',
 grid:grids,xAxis:xAxes,yAxis:yAxes,graphic:{elements:g},
 series:[
  violin(0,0,0,violinA1),violin(1,0,0,violinA2),swarm(0,0,0,dotsA1),swarm(1,0,0,dotsA2),
  violin(0,1,1,violinB1),violin(1,1,1,violinB2),swarm(0,1,1,dotsB1),swarm(1,1,1,dotsB2),
  cloud(cMagentaUpper,'#dd3ff0',2),cloud(cMagentaLower,'#dd3ff0',2),
  scatter(cMagentaPoints,'#d84cee',3,3),
  cloud(cBlackCloud,'#000',4),
  scatter(cBlackPoints,'#000',5,2.6),
  strip(cStripBlack,'#000',5),strip(cStripMagenta,'#dd3ff0',5),
  ...bars(3,3,valuesD,colorsD,18,gridD),
  ...bars(5,5,valuesE,colorsE,18,gridE),
  {type:'custom',xAxisIndex:7,yAxisIndex:7,z:2,silent:true,clip:false,data:netEdges.map(e=>[nodeById[e[0]].x,nodeById[e[0]].y]),renderItem:edgeRender},
  {type:'custom',xAxisIndex:7,yAxisIndex:7,z:3,silent:true,clip:false,data:netNodes.map(n=>[n[2],n[3]]),renderItem:nodeRender},
  {type:'custom',xAxisIndex:7,yAxisIndex:7,z:4,silent:true,clip:false,data:netNodes.map(n=>[n[2],n[3]]),renderItem:labelRender}
 ]
});
</script></body></html>
